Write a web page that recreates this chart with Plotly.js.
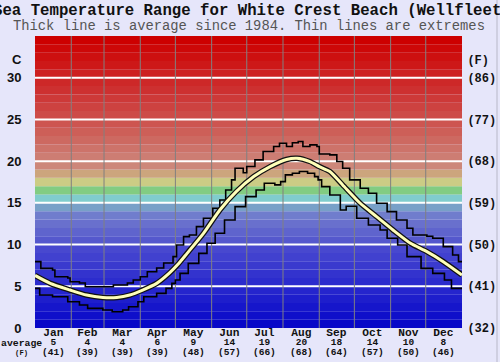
<!DOCTYPE html>
<html><head><meta charset="utf-8">
<script src="https://cdn.plot.ly/plotly-3.0.1.min.js"></script>
<style>html,body{margin:0;padding:0;background:#e6e6fa;}#chart{width:500px;height:362px;}</style>
</head><body><div id="chart"></div>
<script>
// ---- data ----
var months = ["Jan","Feb","Mar","Apr","May","Jun","Jul","Aug","Sep","Oct","Nov","Dec"];
var monthMid = [15.5,45,74.5,105,135.5,166,196.5,227.5,258,288.5,319,349.5];
var monthStart = [31,59,90,120,151,181,212,243,273,304,334];
var avgC = [5,4,4,6,9,14,19,20,18,14,10,8];
var avgF = [41,39,39,39,48,57,66,68,64,57,50,46];
var yTickC = [0,5,10,15,20,25,30];
var yTickF = ["(32)","(41)","(50)","(59)","(68)","(77)","(86)"];

var avgDays = [0,13,30,44,58,70,81,92,104,115,122,130,144,158,172,187,201,215,224,235,243,252,263,278,292,306,321,335,349,365];
var avgVals = [6.3,5.35,4.55,3.95,3.65,3.65,3.95,4.55,5.35,6.6,7.6,8.95,11.35,14.15,16.35,18.15,19.35,20.2,20.35,19.95,19.35,18.75,17.15,14.95,13.35,11.75,10.15,9.15,7.95,6.35];

var upDays = [0,5,15,17,28,30,38,43,67,79,84,90,96,104,110,118,121,127,132,138,144,152,158,163,168,171,178,181,188,195,204,209,215,220,225,229,235,241,243,252,258,263,269,278,285,292,301,309,318,323,335,340,349,357,362,365];
var upVals = [7.95,7.15,6.95,6.15,6.0,5.55,5.4,4.95,5.15,5.4,5.75,6.15,6.75,7.2,7.8,8.55,9.95,10.95,11.15,12.15,13.15,14.35,15.35,16.55,17.75,19.15,18.6,19.35,20.15,21.15,21.75,22.15,21.75,22.2,22.35,21.75,21.95,21.75,20.85,20.75,19.95,19.15,17.75,16.75,16.15,14.95,13.95,12.95,11.95,11.15,11.0,10.75,9.75,8.75,7.95,7.95];

var loDays = [0,4,15,28,38,45,58,66,75,80,88,93,104,112,117,120,124,131,140,147,154,162,171,180,189,196,205,210,214,220,226,233,239,242,245,252,261,266,275,285,295,301,310,318,330,340,350,356,365];
var loVals = [4.75,3.95,3.75,3.15,2.75,2.35,2.15,1.95,2.15,2.55,3.15,3.75,4.15,4.75,5.35,5.75,6.55,7.75,8.95,10.15,11.35,12.95,14.55,15.75,16.55,17.35,17.15,17.55,18.35,18.55,18.75,18.55,18.15,17.75,16.95,15.95,14.15,14.6,13.15,12.35,11.75,10.75,9.95,8.55,7.15,6.55,5.75,4.75,4.65];

// ---- styles ----
var bandColors = ["rgb(8,8,200)","rgb(15,15,202)","rgb(22,22,203)","rgb(30,30,204)","rgb(37,37,205)","rgb(44,44,205)","rgb(51,51,206)","rgb(58,58,206)","rgb(65,65,207)","rgb(72,72,207)",
 "rgb(85,88,205)","rgb(95,100,205)","rgb(105,112,205)","rgb(112,125,205)","rgb(120,160,200)","rgb(128,204,205)","rgb(130,204,130)","rgb(204,204,133)","rgb(204,165,125)","rgb(205,135,122)",
 "rgb(205,125,115)","rgb(205,115,106)","rgb(205,105,97)","rgb(205,95,88)","rgb(205,85,80)","rgb(205,75,72)","rgb(205,66,64)","rgb(205,57,56)","rgb(205,48,48)","rgb(205,40,40)",
 "rgb(205,32,32)","rgb(205,24,24)","rgb(205,16,16)","rgb(205,8,8)","rgb(205,0,0)"];

var shapes = [];
bandColors.forEach(function(c,i){
  shapes.push({type:'rect',layer:'below',xref:'paper',x0:0,x1:1,yref:'y',y0:i,y1:i+1,fillcolor:c,line:{width:0}});
});
yTickC.slice(1).forEach(function(v){
  shapes.push({type:'line',layer:'below',xref:'paper',x0:0,x1:1,yref:'y',y0:v,y1:v,line:{color:'#ffffff',width:2}});
});
monthStart.forEach(function(d){
  shapes.push({type:'line',layer:'below',xref:'x',x0:d,x1:d,yref:'paper',y0:0,y1:1,line:{color:'rgb(128,128,128)',width:1}});
});
shapes.push({type:'line',layer:'above',xref:'paper',x0:1.082,x1:1.082,yref:'paper',y0:-0.12,y1:1.13,line:{color:'#b8b8c8',width:1}});

var mono = "Liberation Mono, Courier New, monospace";
var annotations = [
  {xref:'paper',yref:'paper',x:-0.104,y:1.0856,xanchor:'left',yanchor:'middle',showarrow:false,
   text:'Sea Temperature Range for White Crest Beach (Wellfleet)',font:{family:mono,size:15.7,color:'#111',weight:'bold'}},
  {xref:'paper',yref:'paper',x:0.5,y:1.034,xanchor:'center',yanchor:'middle',showarrow:false,
   text:'Thick line is average since 1984. Thin lines are extremes',font:{family:mono,size:13.8,color:'#555'}},
  {xref:'paper',yref:'paper',x:-0.0315,y:-0.0665,xanchor:'center',yanchor:'middle',showarrow:false,
   text:'<span style="font-size:9.8px">average</span><br>(F)',font:{family:mono,size:7.2,color:'#111',weight:'bold'}}
];
months.forEach(function(m,i){
  annotations.push({xref:'x',yref:'paper',x:monthMid[i],y:-0.0497,xanchor:'center',yanchor:'middle',showarrow:false,
    text:'<span style="font-size:11.2px">'+m+'</span><br><span style="font-size:9.5px">'+avgC[i]+'</span><br><span style="font-size:9.5px">('+avgF[i]+')</span>',
    font:{family:mono,size:7.2,color:'#111',weight:'bold'}});
});

var traces = [
  {x:upDays,y:upVals,mode:'lines',line:{color:'#000',width:1.6,shape:'hv'},hoverinfo:'skip'},
  {x:loDays,y:loVals,mode:'lines',line:{color:'#000',width:1.6,shape:'hv'},hoverinfo:'skip'},
  {x:avgDays,y:avgVals,mode:'lines',line:{color:'#111',width:5.5,shape:'spline',smoothing:0.6},hoverinfo:'skip'},
  {x:avgDays,y:avgVals,mode:'lines',line:{color:'rgb(255,255,185)',width:3,shape:'spline',smoothing:0.6},hoverinfo:'skip'},
  {x:[0],y:[0],yaxis:'y2',mode:'markers',marker:{opacity:0},hoverinfo:'skip'}
];

var layout = {
  width:500,height:362,
  margin:{l:35,r:38,t:36,b:34,pad:0},
  paper_bgcolor:'#e6e6fa',plot_bgcolor:'rgba(0,0,0,0)',
  showlegend:false,
  xaxis:{range:[0,365],showgrid:false,zeroline:false,showticklabels:false,ticks:'',fixedrange:true},
  yaxis:{range:[0,35],showgrid:false,zeroline:false,
    tickvals:yTickC.concat([32.2]),ticktext:yTickC.map(String).concat(['C']),
    ticks:'outside',ticklen:10,tickcolor:'rgba(0,0,0,0)',
    tickfont:{family:'Liberation Sans, Arial, sans-serif',size:13,color:'#111',weight:'bold'}},
  yaxis2:{range:[0,35],overlaying:'y',side:'right',showgrid:false,zeroline:false,
    tickvals:yTickC.concat([32.2]),ticktext:yTickF.concat(['(F)']),
    ticks:'outside',ticklen:2,tickcolor:'rgba(0,0,0,0)',
    tickfont:{family:mono,size:12,color:'#111',weight:'bold'}},
  shapes:shapes,
  annotations:annotations
};
Plotly.newPlot('chart',traces,layout,{displayModeBar:false,staticPlot:true});
</script></body></html>
